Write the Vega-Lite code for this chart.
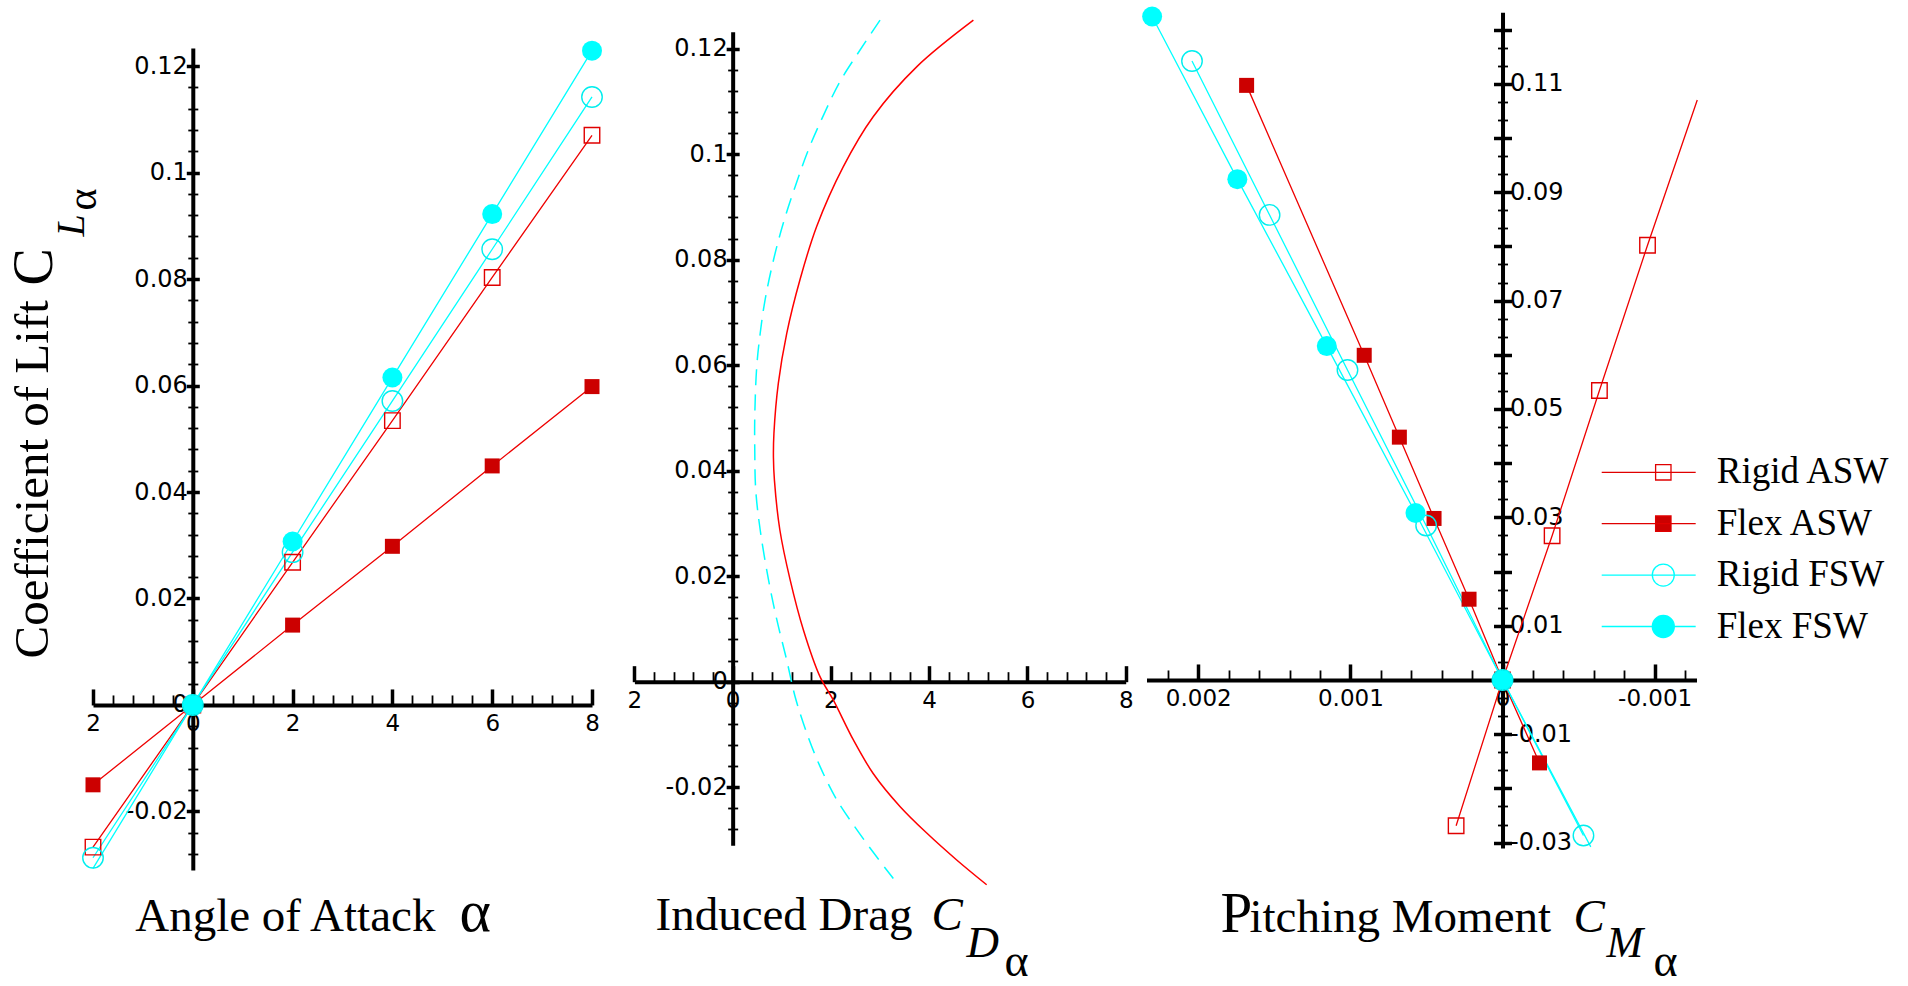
{
  "$schema": "https://vega.github.io/schema/vega-lite/v6.json",
  "width": 1908,
  "height": 986,
  "padding": 0,
  "autosize": {"type": "none"},
  "background": "white",
  "config": {
    "view": {"stroke": null},
    "axis": {
      "grid": false, "domainColor": "#000000", "tickColor": "#000000", "labelColor": "#000000", "titleColor": "#000000",
      "labelFont": "DejaVu Sans", "titleFont": "Liberation Serif", "titleFontWeight": "normal",
      "labelFlush": false, "labelOverlap": false, "labelBound": false, "domainWidth": 4, "titlePadding": 0, "titleLimit": 3000, "labelLimit": 400, "zindex": 0
    }
  },
  "datasets": {
    "lift": [
      {"series": "Rigid ASW", "alpha": -2, "cl": -0.0267}, {"series": "Rigid ASW", "alpha": 0, "cl": 0}, {"series": "Rigid ASW", "alpha": 2, "cl": 0.0268}, {"series": "Rigid ASW", "alpha": 4, "cl": 0.0534}, {"series": "Rigid ASW", "alpha": 6, "cl": 0.0803}, {"series": "Rigid ASW", "alpha": 8, "cl": 0.107},
      {"series": "Flex ASW", "alpha": -2, "cl": -0.015}, {"series": "Flex ASW", "alpha": 0, "cl": 0}, {"series": "Flex ASW", "alpha": 2, "cl": 0.015}, {"series": "Flex ASW", "alpha": 4, "cl": 0.0298}, {"series": "Flex ASW", "alpha": 6, "cl": 0.0449}, {"series": "Flex ASW", "alpha": 8, "cl": 0.0598},
      {"series": "Rigid FSW", "alpha": -2, "cl": -0.0287}, {"series": "Rigid FSW", "alpha": 0, "cl": 0}, {"series": "Rigid FSW", "alpha": 2, "cl": 0.0287}, {"series": "Rigid FSW", "alpha": 4, "cl": 0.0571}, {"series": "Rigid FSW", "alpha": 6, "cl": 0.0856}, {"series": "Rigid FSW", "alpha": 8, "cl": 0.1142},
      {"series": "Flex FSW", "alpha": -2, "cl": -0.0307}, {"series": "Flex FSW", "alpha": 0, "cl": 0}, {"series": "Flex FSW", "alpha": 2, "cl": 0.0307}, {"series": "Flex FSW", "alpha": 4, "cl": 0.0615}, {"series": "Flex FSW", "alpha": 6, "cl": 0.0922}, {"series": "Flex FSW", "alpha": 8, "cl": 0.1229}
    ],
    "drag": [
      {"curve": "ASW", "i": 1, "cd": 4.9, "cl": 0.1254}, {"curve": "ASW", "i": 2, "cd": 3.75, "cl": 0.1166}, {"curve": "ASW", "i": 3, "cd": 2.86, "cl": 0.1071}, {"curve": "ASW", "i": 4, "cd": 2.25, "cl": 0.0976}, {"curve": "ASW", "i": 5, "cd": 1.71, "cl": 0.0863}, {"curve": "ASW", "i": 6, "cd": 1.37, "cl": 0.0762}, {"curve": "ASW", "i": 7, "cd": 1.1, "cl": 0.066}, {"curve": "ASW", "i": 8, "cd": 0.93, "cl": 0.0566}, {"curve": "ASW", "i": 9, "cd": 0.84, "cl": 0.0471}, {"curve": "ASW", "i": 10, "cd": 0.83, "cl": 0.0425}, {"curve": "ASW", "i": 11, "cd": 0.85, "cl": 0.0382}, {"curve": "ASW", "i": 12, "cd": 0.96, "cl": 0.0288}, {"curve": "ASW", "i": 13, "cd": 1.17, "cl": 0.0193}, {"curve": "ASW", "i": 14, "cd": 1.44, "cl": 0.0098}, {"curve": "ASW", "i": 15, "cd": 1.78, "cl": 0.0009}, {"curve": "ASW", "i": 16, "cd": 2.05, "cl": -0.0035}, {"curve": "ASW", "i": 17, "cd": 2.46, "cl": -0.0111}, {"curve": "ASW", "i": 18, "cd": 2.86, "cl": -0.0174}, {"curve": "ASW", "i": 19, "cd": 3.41, "cl": -0.0237}, {"curve": "ASW", "i": 20, "cd": 3.95, "cl": -0.0287}, {"curve": "ASW", "i": 21, "cd": 4.56, "cl": -0.0338}, {"curve": "ASW", "i": 22, "cd": 5.17, "cl": -0.0385},
      {"curve": "FSW", "i": 1, "cd": 3.0, "cl": 0.1254}, {"curve": "FSW", "i": 2, "cd": 2.59, "cl": 0.1197}, {"curve": "FSW", "i": 3, "cd": 2.18, "cl": 0.1137}, {"curve": "FSW", "i": 4, "cd": 1.85, "cl": 0.1074}, {"curve": "FSW", "i": 5, "cd": 1.54, "cl": 0.1008}, {"curve": "FSW", "i": 6, "cd": 1.27, "cl": 0.0938}, {"curve": "FSW", "i": 7, "cd": 1.03, "cl": 0.0869}, {"curve": "FSW", "i": 8, "cd": 0.83, "cl": 0.0799}, {"curve": "FSW", "i": 9, "cd": 0.66, "cl": 0.0724}, {"curve": "FSW", "i": 10, "cd": 0.56, "cl": 0.066}, {"curve": "FSW", "i": 11, "cd": 0.49, "cl": 0.0597}, {"curve": "FSW", "i": 12, "cd": 0.45, "cl": 0.0502}, {"curve": "FSW", "i": 13, "cd": 0.45, "cl": 0.0439}, {"curve": "FSW", "i": 14, "cd": 0.47, "cl": 0.0363}, {"curve": "FSW", "i": 15, "cd": 0.56, "cl": 0.0288}, {"curve": "FSW", "i": 16, "cd": 0.73, "cl": 0.0193}, {"curve": "FSW", "i": 17, "cd": 0.9, "cl": 0.0117}, {"curve": "FSW", "i": 18, "cd": 1.1, "cl": 0.0041}, {"curve": "FSW", "i": 19, "cd": 1.27, "cl": -0.0028}, {"curve": "FSW", "i": 20, "cd": 1.51, "cl": -0.0098}, {"curve": "FSW", "i": 21, "cd": 1.78, "cl": -0.0161}, {"curve": "FSW", "i": 22, "cd": 2.12, "cl": -0.0224}, {"curve": "FSW", "i": 23, "cd": 2.53, "cl": -0.0281}, {"curve": "FSW", "i": 24, "cd": 2.93, "cl": -0.0332}, {"curve": "FSW", "i": 25, "cd": 3.27, "cl": -0.0373}
    ],
    "moment": [
      {"series": "Rigid ASW", "cm": -0.00128, "cl": 0.107}, {"series": "Rigid ASW", "cm": -0.000953, "cl": 0.0802}, {"series": "Rigid ASW", "cm": -0.000637, "cl": 0.0534}, {"series": "Rigid ASW", "cm": -0.000326, "cl": 0.0266}, {"series": "Rigid ASW", "cm": 0, "cl": 0}, {"series": "Rigid ASW", "cm": 0.000305, "cl": -0.0269},
      {"series": "Flex ASW", "cm": 0.001682, "cl": 0.1097}, {"series": "Flex ASW", "cm": 0.000909, "cl": 0.0599}, {"series": "Flex ASW", "cm": 0.000678, "cl": 0.0448}, {"series": "Flex ASW", "cm": 0.00045, "cl": 0.0298}, {"series": "Flex ASW", "cm": 0.00022, "cl": 0.0149}, {"series": "Flex ASW", "cm": 0, "cl": 0}, {"series": "Flex ASW", "cm": -0.000243, "cl": -0.0153},
      {"series": "Rigid FSW", "cm": 0.002041, "cl": 0.1142}, {"series": "Rigid FSW", "cm": 0.001531, "cl": 0.0858}, {"series": "Rigid FSW", "cm": 0.001019, "cl": 0.0572}, {"series": "Rigid FSW", "cm": 0.000502, "cl": 0.0285}, {"series": "Rigid FSW", "cm": 0, "cl": 0}, {"series": "Rigid FSW", "cm": -0.000532, "cl": -0.0287},
      {"series": "Flex FSW", "cm": 0.002303, "cl": 0.1224}, {"series": "Flex FSW", "cm": 0.001743, "cl": 0.0924}, {"series": "Flex FSW", "cm": 0.001155, "cl": 0.0616}, {"series": "Flex FSW", "cm": 0.000572, "cl": 0.0308}, {"series": "Flex FSW", "cm": 0, "cl": 0}, {"series": "Flex FSW", "cm": -0.00058, "cl": -0.0308}
    ]
  },
  "layer": [
    {
      "data": {"name": "lift"},
      "resolve": {"axis": {"x": "independent", "y": "independent"}},
      "layer": [
        {
          "mark": {"type": "line", "strokeWidth": 1.3},
          "encoding": {
            "x": {"field": "alpha", "type": "quantitative", "scale": {"domain": [-2, 8], "range": [93, 592], "nice": false, "zero": false},
              "axis": {"orient": "bottom", "offset": -281.04, "values": [-2, 0, 2, 4, 6, 8], "ticks": false, "labels": true, "labelFontSize": 23, "labelPadding": 8, "labelExpr": "datum.value == -2 ? '2' : datum.label", "domain": true, "domainWidth": 4,
                "title": "Angle of Attack", "titleFontSize": 47, "titleX": 134.7, "titleY": 225.74, "titleAlign": "left", "titleBaseline": "alphabetic", "titleAngle": 0}},
            "y": {"field": "cl", "type": "quantitative", "scale": {"domain": [-0.031, 0.1234], "range": [870, 48], "nice": false, "zero": false},
              "axis": {"orient": "left", "offset": -192.8, "values": [-0.02, 0, 0.02, 0.04, 0.06, 0.08, 0.1, 0.12], "tickSize": 6.5, "tickWidth": 3.5, "labels": true, "labelFontSize": 24, "labelPadding": -1, "format": ".2~f", "labelExpr": "replace(datum.label, '\u2212', '-')", "domain": true, "domainWidth": 4,
                "title": "Coefficient of Lift", "titleFontSize": 49, "titleAngle": 270, "titleX": -145.8, "titleY": 658, "titleAlign": "left", "titleBaseline": "alphabetic"}},
            "color": {"field": "series", "type": "nominal", "scale": {"domain": ["Flex FSW", "Rigid FSW", "Flex ASW", "Rigid ASW"], "range": ["#00ffff", "#00ffff", "#ee0000", "#ee0000"]}, "legend": null}
          }
        },
        {
          "transform": [{"filter": "datum.series == 'Rigid ASW' && datum.cl >= -0.03"}],
          "mark": {"type": "point", "shape": "square", "size": 240, "filled": false, "color": "#e00000", "fill": "transparent", "strokeWidth": 1.4, "opacity": 1},
          "encoding": {
            "x": {"field": "alpha", "type": "quantitative", "scale": {"domain": [-2, 8], "range": [93, 592], "nice": false, "zero": false},
              "axis": {"orient": "top", "offset": -704.96, "values": [-2, 0, 2, 4, 6, 8], "tickSize": 16, "tickWidth": 3.5, "labels": false, "domain": false,
                "title": "α", "titleFontSize": 60, "titleX": 459, "titleY": 225.74, "titleAlign": "left", "titleBaseline": "alphabetic", "titleAngle": 0}},
            "y": {"field": "cl", "type": "quantitative", "scale": {"domain": [-0.031, 0.1234], "range": [870, 48], "nice": false, "zero": false},
              "axis": {"orient": "right", "offset": -1715.2, "values": [-0.02, 0, 0.02, 0.04, 0.06, 0.08, 0.1, 0.12], "tickSize": 6.5, "tickWidth": 3.5, "labels": false, "domain": false,
                "title": "C", "titleFontSize": 56, "titleAngle": 270, "titleX": -141.8, "titleY": 285, "titleAlign": "left", "titleBaseline": "alphabetic"}}
          }
        },
        {
          "transform": [{"filter": "datum.series == 'Flex ASW' && datum.cl >= -0.03"}],
          "mark": {"type": "point", "shape": "square", "size": 225, "filled": true, "color": "#cc0000", "opacity": 1},
          "encoding": {
            "x": {"field": "alpha", "type": "quantitative", "scale": {"domain": [-2, 8], "range": [93, 592], "nice": false, "zero": false},
              "axis": {"orient": "top", "offset": -704.96, "values": [-1.6, -1.2, -0.8, -0.4, 0.4, 0.8, 1.2, 1.6, 2.4, 2.8, 3.2, 3.6, 4.4, 4.8, 5.2, 5.6, 6.4, 6.8, 7.2, 7.6], "tickSize": 10, "tickWidth": 1.8, "labels": false, "domain": false, "title": null}},
            "y": {"field": "cl", "type": "quantitative", "scale": {"domain": [-0.031, 0.1234], "range": [870, 48], "nice": false, "zero": false},
              "axis": {"orient": "left", "offset": -192.8, "values": [-0.028, -0.024, -0.016, -0.012, -0.008, -0.004, 0.004, 0.008, 0.012, 0.016, 0.024, 0.028, 0.032, 0.036, 0.044, 0.048, 0.052, 0.056, 0.064, 0.068, 0.072, 0.076, 0.084, 0.088, 0.092, 0.096, 0.104, 0.108, 0.112, 0.116], "tickSize": 5, "tickWidth": 1.8, "labels": false, "domain": false,
                "title": "L", "titleFontSize": 40, "titleFontStyle": "italic", "titleAngle": 270, "titleX": -109.8, "titleY": 236, "titleAlign": "left", "titleBaseline": "alphabetic"}}
          }
        },
        {
          "transform": [{"filter": "datum.series == 'Rigid FSW' && datum.cl >= -0.03"}],
          "mark": {"type": "point", "shape": "circle", "size": 420, "filled": false, "color": "#00eeee", "fill": "transparent", "strokeWidth": 1.4, "opacity": 1},
          "encoding": {
            "x": {"field": "alpha", "type": "quantitative", "scale": {"domain": [-2, 8], "range": [93, 592], "nice": false, "zero": false}, "axis": null},
            "y": {"field": "cl", "type": "quantitative", "scale": {"domain": [-0.031, 0.1234], "range": [870, 48], "nice": false, "zero": false},
              "axis": {"orient": "right", "offset": -1715.2, "values": [-0.028, -0.024, -0.016, -0.012, -0.008, -0.004, 0.004, 0.008, 0.012, 0.016, 0.024, 0.028, 0.032, 0.036, 0.044, 0.048, 0.052, 0.056, 0.064, 0.068, 0.072, 0.076, 0.084, 0.088, 0.092, 0.096, 0.104, 0.108, 0.112, 0.116], "tickSize": 5, "tickWidth": 1.8, "labels": false, "domain": false,
                "title": "α", "titleFontSize": 42, "titleAngle": 270, "titleX": -97.8, "titleY": 210, "titleAlign": "left", "titleBaseline": "alphabetic"}}
          }
        },
        {
          "transform": [{"filter": "datum.series == 'Flex FSW' && datum.cl >= -0.03"}],
          "mark": {"type": "point", "shape": "circle", "size": 400, "filled": true, "color": "#00ffff", "opacity": 1},
          "encoding": {
            "x": {"field": "alpha", "type": "quantitative", "scale": {"domain": [-2, 8], "range": [93, 592], "nice": false, "zero": false}, "axis": null},
            "y": {"field": "cl", "type": "quantitative", "scale": {"domain": [-0.031, 0.1234], "range": [870, 48], "nice": false, "zero": false}, "axis": null}
          }
        }
      ]
    },
    {
      "data": {"name": "drag"},
      "resolve": {"axis": {"x": "independent", "y": "independent"}},
      "layer": [
        {
          "transform": [{"filter": "datum.curve == 'ASW'"}],
          "mark": {"type": "line", "color": "#ff0000", "strokeWidth": 1.5, "interpolate": "catmull-rom"},
          "encoding": {
            "x": {"field": "cd", "type": "quantitative", "scale": {"domain": [-2, 8], "range": [634.4, 1125.7], "nice": false, "zero": false},
              "axis": {"orient": "bottom", "offset": -304.32, "values": [-2, 0, 2, 4, 6, 8], "ticks": false, "labels": true, "labelFontSize": 23, "labelPadding": 8, "labelExpr": "datum.value == -2 ? '2' : datum.label", "domain": true, "domainWidth": 4,
                "title": "Induced Drag", "titleFontSize": 47, "titleX": 655, "titleY": 248.3, "titleAlign": "left", "titleBaseline": "alphabetic", "titleAngle": 0}},
            "y": {"field": "cl", "type": "quantitative", "scale": {"domain": [-0.031, 0.1232], "range": [845.2, 31.8], "nice": false, "zero": false},
              "axis": {"orient": "left", "offset": -732.66, "values": [-0.02, 0, 0.02, 0.04, 0.06, 0.08, 0.1, 0.12], "tickSize": 6.5, "tickWidth": 3.5, "labels": true, "labelFontSize": 24, "labelPadding": -1, "format": ".2~f", "labelExpr": "replace(datum.label, '\u2212', '-')", "domain": true, "domainWidth": 4, "title": null}},
            "order": {"field": "i", "type": "quantitative"}
          }
        },
        {
          "transform": [{"filter": "datum.curve == 'FSW'"}],
          "mark": {"type": "line", "color": "#00ffff", "strokeWidth": 1.5, "strokeDash": [16, 9], "interpolate": "catmull-rom"},
          "encoding": {
            "x": {"field": "cd", "type": "quantitative", "scale": {"domain": [-2, 8], "range": [634.4, 1125.7], "nice": false, "zero": false},
              "axis": {"orient": "top", "offset": -681.68, "values": [-2, 0, 2, 4, 6, 8], "tickSize": 16, "tickWidth": 3.5, "labels": false, "domain": false,
                "title": "C", "titleFontSize": 47, "titleFontStyle": "italic", "titleX": 931, "titleY": 248.3, "titleAlign": "left", "titleBaseline": "alphabetic", "titleAngle": 0}},
            "y": {"field": "cl", "type": "quantitative", "scale": {"domain": [-0.031, 0.1232], "range": [845.2, 31.8], "nice": false, "zero": false},
              "axis": {"orient": "right", "offset": -1175.34, "values": [-0.02, 0, 0.02, 0.04, 0.06, 0.08, 0.1, 0.12], "tickSize": 6.5, "tickWidth": 3.5, "labels": false, "domain": false, "title": null}},
            "order": {"field": "i", "type": "quantitative"}
          }
        },
        {
          "mark": {"type": "point", "opacity": 0},
          "encoding": {
            "x": {"field": "cd", "type": "quantitative", "scale": {"domain": [-2, 8], "range": [634.4, 1125.7], "nice": false, "zero": false},
              "axis": {"orient": "top", "offset": -681.68, "values": [-1.6, -1.2, -0.8, -0.4, 0.4, 0.8, 1.2, 1.6, 2.4, 2.8, 3.2, 3.6, 4.4, 4.8, 5.2, 5.6, 6.4, 6.8, 7.2, 7.6], "tickSize": 10, "tickWidth": 1.8, "labels": false, "domain": false,
                "title": "D", "titleFontSize": 45, "titleFontStyle": "italic", "titleX": 966, "titleY": 275, "titleAlign": "left", "titleBaseline": "alphabetic", "titleAngle": 0}},
            "y": {"field": "cl", "type": "quantitative", "scale": {"domain": [-0.031, 0.1232], "range": [845.2, 31.8], "nice": false, "zero": false},
              "axis": {"orient": "left", "offset": -732.66, "values": [-0.028, -0.024, -0.016, -0.012, -0.008, -0.004, 0.004, 0.008, 0.012, 0.016, 0.024, 0.028, 0.032, 0.036, 0.044, 0.048, 0.052, 0.056, 0.064, 0.068, 0.072, 0.076, 0.084, 0.088, 0.092, 0.096, 0.104, 0.108, 0.112, 0.116], "tickSize": 5, "tickWidth": 1.8, "labels": false, "domain": false, "title": null}}
          }
        },
        {
          "mark": {"type": "point", "opacity": 0},
          "encoding": {
            "x": {"field": "cd", "type": "quantitative", "scale": {"domain": [-2, 8], "range": [634.4, 1125.7], "nice": false, "zero": false},
              "axis": {"orient": "bottom", "offset": -304.32, "ticks": false, "labels": false, "domain": false,
                "title": "α", "titleFontSize": 46, "titleX": 1004, "titleY": 293.8, "titleAlign": "left", "titleBaseline": "alphabetic", "titleAngle": 0}},
            "y": {"field": "cl", "type": "quantitative", "scale": {"domain": [-0.031, 0.1232], "range": [845.2, 31.8], "nice": false, "zero": false},
              "axis": {"orient": "right", "offset": -1175.34, "values": [-0.028, -0.024, -0.016, -0.012, -0.008, -0.004, 0.004, 0.008, 0.012, 0.016, 0.024, 0.028, 0.032, 0.036, 0.044, 0.048, 0.052, 0.056, 0.064, 0.068, 0.072, 0.076, 0.084, 0.088, 0.092, 0.096, 0.104, 0.108, 0.112, 0.116], "tickSize": 5, "tickWidth": 1.8, "labels": false, "domain": false, "title": null}}
          }
        }
      ]
    },
    {
      "data": {"name": "moment"},
      "resolve": {"axis": {"x": "independent", "y": "independent"}},
      "layer": [
        {
          "mark": {"type": "line", "strokeWidth": 1.3},
          "encoding": {
            "x": {"field": "cm", "type": "quantitative", "scale": {"domain": [-0.001275, 0.00234], "range": [1696.5, 1146.5], "nice": false, "zero": false},
              "axis": {"orient": "bottom", "offset": -306.03, "values": [0.002, 0.001, 0, -0.001], "ticks": false, "labels": true, "labelFontSize": 23, "labelPadding": 8, "format": ".3~f", "labelExpr": "replace(datum.label, '\u2212', '-')", "domain": true, "domainWidth": 4,
                "title": "itching Moment", "titleFontSize": 47, "titleX": 1249, "titleY": 251.7, "titleAlign": "left", "titleBaseline": "alphabetic", "titleAngle": 0}},
            "y": {"field": "cl", "type": "quantitative", "scale": {"domain": [-0.031, 0.1232], "range": [848, 12.2], "nice": false, "zero": false},
              "axis": {"orient": "right", "offset": -405.48, "values": [-0.03, -0.02, -0.01, 0, 0.01, 0.02, 0.03, 0.04, 0.05, 0.06, 0.07, 0.08, 0.09, 0.1, 0.11, 0.12], "tickSize": 9, "tickWidth": 3.5, "labels": true, "labelFontSize": 24, "labelPadding": -2,
                "labelExpr": "abs(round(datum.value * 100)) % 2 == 1 ? replace(format(datum.value, '.2~f'), '\u2212', '-') : ''", "domain": true, "domainWidth": 4, "title": null}},
            "color": {"field": "series", "type": "nominal", "scale": {"domain": ["Flex FSW", "Rigid FSW", "Flex ASW", "Rigid ASW"], "range": ["#00ffff", "#00ffff", "#ee0000", "#ee0000"]}, "legend": null},
            "order": {"field": "cl", "type": "quantitative"}
          }
        },
        {
          "transform": [{"filter": "datum.series == 'Rigid ASW' && datum.cl >= -0.03 && datum.cm >= -0.001275"}],
          "mark": {"type": "point", "shape": "square", "size": 240, "filled": false, "color": "#e00000", "fill": "transparent", "strokeWidth": 1.4, "opacity": 1},
          "encoding": {
            "x": {"field": "cm", "type": "quantitative", "scale": {"domain": [-0.001275, 0.00234], "range": [1696.5, 1146.5], "nice": false, "zero": false},
              "axis": {"orient": "top", "offset": -679.97, "values": [0.002, 0.001, 0, -0.001], "tickSize": 16, "tickWidth": 3.5, "labels": false, "domain": false,
                "title": "C", "titleFontSize": 47, "titleFontStyle": "italic", "titleX": 1573, "titleY": 251.7, "titleAlign": "left", "titleBaseline": "alphabetic", "titleAngle": 0}},
            "y": {"field": "cl", "type": "quantitative", "scale": {"domain": [-0.031, 0.1232], "range": [848, 12.2], "nice": false, "zero": false},
              "axis": {"orient": "left", "offset": -1502.52, "values": [-0.03, -0.02, -0.01, 0, 0.01, 0.02, 0.03, 0.04, 0.05, 0.06, 0.07, 0.08, 0.09, 0.1, 0.11, 0.12], "tickSize": 9, "tickWidth": 3.5, "labels": false, "domain": false, "title": null}}
          }
        },
        {
          "transform": [{"filter": "datum.series == 'Flex ASW' && datum.cl >= -0.03 && datum.cm >= -0.001275"}],
          "mark": {"type": "point", "shape": "square", "size": 225, "filled": true, "color": "#cc0000", "opacity": 1},
          "encoding": {
            "x": {"field": "cm", "type": "quantitative", "scale": {"domain": [-0.001275, 0.00234], "range": [1696.5, 1146.5], "nice": false, "zero": false},
              "axis": {"orient": "top", "offset": -679.97, "values": [0.0022, 0.0018, 0.0016, 0.0014, 0.0012, 0.0008, 0.0006, 0.0004, 0.0002, -0.0002, -0.0004, -0.0006, -0.0008, -0.0012], "tickSize": 10, "tickWidth": 1.8, "labels": false, "domain": false,
                "title": "M", "titleFontSize": 44, "titleFontStyle": "italic", "titleX": 1606, "titleY": 277, "titleAlign": "left", "titleBaseline": "alphabetic", "titleAngle": 0}},
            "y": {"field": "cl", "type": "quantitative", "scale": {"domain": [-0.031, 0.1232], "range": [848, 12.2], "nice": false, "zero": false},
              "axis": {"orient": "right", "offset": -405.48, "values": [-0.02667, -0.02333, -0.01667, -0.01333, -0.00667, -0.00333, 0.00333, 0.00667, 0.01333, 0.01667, 0.02333, 0.02667, 0.03333, 0.03667, 0.04333, 0.04667, 0.05333, 0.05667, 0.06333, 0.06667, 0.07333, 0.07667, 0.08333, 0.08667, 0.09333, 0.09667, 0.10333, 0.10667, 0.11333, 0.11667], "tickSize": 5, "tickWidth": 1.8, "labels": false, "domain": false, "title": null}}
          }
        },
        {
          "transform": [{"filter": "datum.series == 'Rigid FSW' && datum.cl >= -0.03 && datum.cm >= -0.001275"}],
          "mark": {"type": "point", "shape": "circle", "size": 420, "filled": false, "color": "#00eeee", "fill": "transparent", "strokeWidth": 1.4, "opacity": 1},
          "encoding": {
            "x": {"field": "cm", "type": "quantitative", "scale": {"domain": [-0.001275, 0.00234], "range": [1696.5, 1146.5], "nice": false, "zero": false},
              "axis": {"orient": "bottom", "offset": -306.03, "ticks": false, "labels": false, "domain": false,
                "title": "α", "titleFontSize": 46, "titleX": 1653, "titleY": 295.5, "titleAlign": "left", "titleBaseline": "alphabetic", "titleAngle": 0}},
            "y": {"field": "cl", "type": "quantitative", "scale": {"domain": [-0.031, 0.1232], "range": [848, 12.2], "nice": false, "zero": false},
              "axis": {"orient": "left", "offset": -1502.52, "values": [-0.02667, -0.02333, -0.01667, -0.01333, -0.00667, -0.00333, 0.00333, 0.00667, 0.01333, 0.01667, 0.02333, 0.02667, 0.03333, 0.03667, 0.04333, 0.04667, 0.05333, 0.05667, 0.06333, 0.06667, 0.07333, 0.07667, 0.08333, 0.08667, 0.09333, 0.09667, 0.10333, 0.10667, 0.11333, 0.11667], "tickSize": 5, "tickWidth": 1.8, "labels": false, "domain": false, "title": null}}
          }
        },
        {
          "transform": [{"filter": "datum.series == 'Flex FSW' && datum.cl >= -0.03 && datum.cm >= -0.001275"}],
          "mark": {"type": "point", "shape": "circle", "size": 400, "filled": true, "color": "#00ffff", "opacity": 1},
          "encoding": {
            "x": {"field": "cm", "type": "quantitative", "scale": {"domain": [-0.001275, 0.00234], "range": [1696.5, 1146.5], "nice": false, "zero": false},
              "axis": {"orient": "bottom", "offset": -306.03, "ticks": false, "labels": false, "domain": false,
                "title": "P", "titleFontSize": 57, "titleX": 1220, "titleY": 251.7, "titleAlign": "left", "titleBaseline": "alphabetic", "titleAngle": 0}},
            "y": {"field": "cl", "type": "quantitative", "scale": {"domain": [-0.031, 0.1232], "range": [848, 12.2], "nice": false, "zero": false}, "axis": null}
          }
        },
        {
          "mark": {"type": "point", "opacity": 0},
          "encoding": {
            "x": {"field": "cm", "type": "quantitative", "scale": {"domain": [-0.001275, 0.00234], "range": [1696.5, 1146.5], "nice": false, "zero": false}, "axis": null},
            "y": {"field": "cl", "type": "quantitative", "scale": {"domain": [-0.031, 0.1232], "range": [848, 12.2], "nice": false, "zero": false}, "axis": null},
            "shape": {"field": "series", "type": "nominal",
              "scale": {"domain": ["Rigid ASW", "Flex ASW", "Rigid FSW", "Flex FSW"], "range": ["M-1.918,0H1.918M0.282,-0.314H0.91V0.314H0.282Z", "M-1.918,0H1.918M0.282,-0.314H0.91V0.314H0.282Z", "M-1.918,0H1.918M0.147,0A0.449,0.449,0,1,1,1.045,0A0.449,0.449,0,1,1,0.147,0Z", "M-1.918,0H1.918M0.147,0A0.449,0.449,0,1,1,1.045,0A0.449,0.449,0,1,1,0.147,0Z"]},
              "legend": {"orient": "none", "legendX": 1623.2, "legendY": 446.8, "title": null, "direction": "vertical", "columns": 1, "symbolSize": 2401, "symbolStrokeWidth": 1.3, "symbolOpacity": 1,
                "labelFont": "Liberation Serif", "labelFontSize": 37, "labelColor": "#000000", "labelOffset": 42.5, "labelLimit": 400, "rowPadding": 7.4, "padding": 0, "offset": 0}},
            "fill": {"field": "series", "type": "nominal",
              "scale": {"domain": ["Rigid ASW", "Flex ASW", "Rigid FSW", "Flex FSW"], "range": ["transparent", "#cc0000", "transparent", "#00ffff"]},
              "legend": {"orient": "none", "legendX": 1623.2, "legendY": 446.8, "title": null, "direction": "vertical", "columns": 1, "symbolSize": 2401, "symbolStrokeWidth": 1.3, "symbolOpacity": 1,
                "labelFont": "Liberation Serif", "labelFontSize": 37, "labelColor": "#000000", "labelOffset": 42.5, "labelLimit": 400, "rowPadding": 7.4, "padding": 0, "offset": 0}},
            "stroke": {"field": "series", "type": "nominal",
              "scale": {"domain": ["Rigid ASW", "Flex ASW", "Rigid FSW", "Flex FSW"], "range": ["#e00000", "#e00000", "#00ffff", "#00ffff"]},
              "legend": {"orient": "none", "legendX": 1623.2, "legendY": 446.8, "title": null, "direction": "vertical", "columns": 1, "symbolSize": 2401, "symbolStrokeWidth": 1.3, "symbolOpacity": 1,
                "labelFont": "Liberation Serif", "labelFontSize": 37, "labelColor": "#000000", "labelOffset": 42.5, "labelLimit": 400, "rowPadding": 7.4, "padding": 0, "offset": 0}}
          }
        }
      ]
    }
  ],
  "resolve": {"scale": {"x": "independent", "y": "independent"}, "axis": {"x": "independent", "y": "independent"}}
}
